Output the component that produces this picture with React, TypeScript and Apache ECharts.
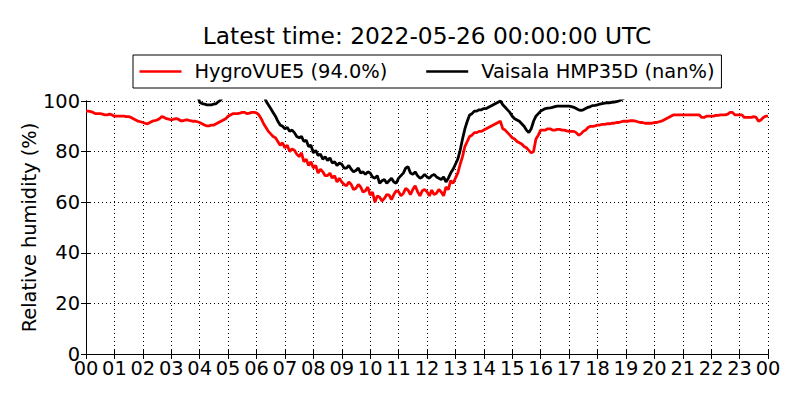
import React, { useEffect, useRef } from "react";
import * as echarts from "echarts";

// Samples every 5 minutes from 00:00 to 24:00 (12 per hour)
const hygroVUE5: number[] = [
  96, 96, 95.8, 95.5, 95, 95, 95, 94.8, 94.5, 94.5, 94.8, 94.5,
  94, 94, 94, 94, 94, 93.8, 93.8, 93.5, 93, 92.5, 92, 91.8,
  91.5, 91.2, 91, 91.5, 92, 92.2, 92.5, 93, 93.8, 93.5, 93, 92.8,
  92.5, 92.8, 93, 92.8, 92.2, 92.2, 92.5, 92.5, 92.2, 92, 92, 91.8,
  91.5, 91, 90.5, 90.2, 90.2, 90.5, 90.5, 91, 91.5, 92, 92.5, 93,
  94, 94.5, 95, 95, 95, 95.2, 95.5, 95.5, 95, 95.2, 95.5, 95.5,
  95.3, 94.5, 93, 91, 89.5, 88, 87, 86, 85.5, 84, 82.5, 83.5,
  81.5, 82.5, 80, 81, 80.5, 79, 78, 79.5, 76, 77, 74.5, 76,
  73.5, 74.5, 71.5, 73, 72, 70.5, 70.5, 71.5, 69.5, 70.5, 68, 69.5,
  68, 67, 66.5, 68, 67, 65, 65.5, 67, 66, 64, 64.5, 66,
  62.8, 64, 60, 62.5, 62, 60.5, 61.5, 63, 62.8, 61, 63, 64.5,
  64.2, 62.5, 63.5, 65.5, 64.8, 63, 65, 66.5, 64.2, 62.5, 64.5, 65,
  64.2, 62.5, 64.8, 63, 63.5, 65, 64, 62.5, 66, 65, 68.5, 67.5,
  69.5, 71.5, 75, 78, 82, 84, 86, 86.5, 87.5, 87.5, 88, 88,
  88.5, 89, 89.5, 90, 90.5, 91, 91.5, 92, 89, 88.5, 87.5, 86.5,
  85.5, 85, 84, 83.5, 83, 82, 81.5, 80.5, 79.5, 80, 85, 86.5,
  88.5, 88.5, 88.5, 89, 89, 88.5, 88.5, 88.8, 88.8, 88.5, 88.5, 88.2,
  88, 88, 88, 87.5, 86.5, 87, 88, 88.5, 89.5, 90, 90, 90.2,
  90.5, 90.5, 90.8, 90.8, 91, 91, 91.2, 91.2, 91.5, 91.5, 91.8, 92,
  92, 92, 92.2, 92.2, 92, 91.8, 91.5, 91.5, 91.2, 91.2, 91.2, 91.2,
  91.5, 91.5, 91.8, 92, 92.5, 93, 93.5, 94, 94.5, 94.5, 94.5, 94.5,
  94.5, 94.5, 94.5, 94.5, 94.5, 94.5, 94.5, 94.5, 93.5, 93.5, 94, 94,
  94, 94, 94.3, 94.3, 94.5, 94.5, 94.5, 94.8, 95.5, 95.5, 94.5, 94.5,
  94.5, 94.5, 93.5, 93.5, 93.5, 93.5, 93.8, 93.5, 92, 92.5, 93.5, 94,
  94,
];

// Values above 100 % lie outside the plotted range and are clipped away
const vaisala: number[] = [
  103, 103, 103, 103, 103, 103, 103, 103, 103, 103, 103, 103,
  103, 103, 103, 103, 103, 103, 103, 103, 103, 103, 103, 103,
  103, 103, 103, 103, 103, 103, 103, 103, 103, 103, 103, 103,
  103, 103, 103, 103, 103, 103, 103, 103, 103, 103, 103, 103,
  99.5, 99, 98.8, 98.5, 98.5, 98.5, 98.8, 99, 99.8, 100.5, 103, 103,
  103, 103, 103, 103, 103, 103, 103, 103, 103, 103, 103, 103,
  103, 103, 103, 103, 100, 98.5, 97, 95.5, 94, 92, 90.5, 90,
  89, 89.5, 88, 88.5, 87.5, 86, 85.5, 86, 84, 84.5, 82, 82.5,
  79.5, 80.5, 78.5, 79, 77, 78, 76.5, 77.5, 75.5, 76, 74.5, 75.5,
  75, 73.5, 73.5, 74.5, 73, 72, 72.5, 73.5, 71.5, 72, 71, 72,
  71.5, 70, 69.5, 70.5, 67.5, 68.5, 69, 67.5, 68.5, 69.5, 68, 67.5,
  69.5, 70.5, 71.5, 73.5, 74, 71.5, 71, 72, 70.5, 69.5, 70, 71,
  70, 69.5, 70.5, 71, 70, 69.5, 69, 70, 68, 69.5, 71.5, 73,
  75, 77, 80.5, 85, 89, 92, 94.5, 95, 96, 96, 96.5, 96.5,
  97, 97, 97.5, 98, 98.5, 99, 99.5, 100, 98.5, 97.5, 96.5, 95.5,
  94, 93, 92.5, 92, 91, 90, 88.5, 87.5, 89, 92, 94, 95,
  96, 96.5, 97, 97.2, 97.3, 97.5, 97.8, 98, 98, 98, 98, 98,
  98, 97.8, 97.5, 97, 96.5, 96.3, 96.5, 97, 97.5, 97.8, 98.2, 98.3,
  98.5, 98.8, 99, 99.2, 99.3, 99.3, 99.5, 99.6, 99.8, 100, 100.5, 101,
  103, 103, 103, 103, 103, 103, 103, 103, 103, 103, 103, 103,
  103, 103, 103, 103, 103, 103, 103, 103, 103, 103, 103, 103,
  103, 103, 103, 103, 103, 103, 103, 103, 103, 103, 103, 103,
  103, 103, 103, 103, 103, 103, 103, 103, 103, 103, 103, 103,
  103, 103, 103, 103, 103, 103, 103, 103, 103, 103, 103, 103,
  103,
];

const seriesNames = ["HygroVUE5 (94.0%)", "Vaisala HMP35D (nan%)"];
const titleText = "Latest time: 2022-05-26 00:00:00 UTC";
const yTicks = [0, 20, 40, 60, 80, 100];
const yLabel = "Relative humidity (%)";

const FONT = "DejaVu Sans";

export default function App() {
  const ref = useRef<HTMLDivElement>(null);
  useEffect(() => {
    document.body.style.margin = "0";
    if (!ref.current) return;
    const chart = echarts.init(ref.current, undefined, { renderer: "svg" });
    const toPairs = (arr: number[]) => arr.map((v, i) => [i / 12, v]);
    const hourFmt = (v: number) => String(Math.round(v) % 24).padStart(2, "0");
    const axisLine = { show: true, lineStyle: { color: "#000", width: 1 } };
    const tick = { show: true, inside: true, length: 5, lineStyle: { color: "#000", width: 1 } };
    const grid = { lineStyle: { color: "#000", width: 1, type: [1, 3] as any } };
    chart.setOption({
      animation: false,
      backgroundColor: "#fff",
      textStyle: { fontFamily: FONT },
      graphic: [
        {
          type: "text",
          style: {
            text: titleText,
            x: 427,
            y: 35,
            align: "center",
            verticalAlign: "middle",
            fontFamily: FONT,
            fontSize: 23.3,
            fill: "#000",
          },
        },
      ],
      legend: {
        left: 133,
        top: 55,
        orient: "horizontal",
        data: seriesNames,
        icon: "rect",
        itemWidth: 42,
        itemHeight: 2.5,
        itemGap: 39,
        padding: [7, 7, 7, 6.5],
        borderColor: "#000",
        borderWidth: 1,
        borderRadius: 0,
        textStyle: { fontFamily: FONT, fontSize: 19.4, color: "#000", padding: [0, 0, 0, 8] },
      },
      grid: { left: 86, right: 32, top: 101, bottom: 46, containLabel: false },
      xAxis: [
        {
          type: "value",
          min: 0,
          max: 24,
          interval: 1,
          axisLine,
          axisTick: tick,
          splitLine: { show: true, ...grid },
          axisLabel: { formatter: hourFmt, fontFamily: FONT, fontSize: 19.4, color: "#000", margin: 5 },
        },
        {
          type: "value",
          position: "top",
          min: 0,
          max: 24,
          interval: 1,
          axisLine,
          axisTick: tick,
          splitLine: { show: false },
          axisLabel: { show: false },
        },
      ],
      yAxis: [
        {
          type: "value",
          min: yTicks[0],
          max: yTicks[yTicks.length - 1],
          interval: 20,
          axisLine,
          axisTick: tick,
          splitLine: { show: true, ...grid },
          axisLabel: { fontFamily: FONT, fontSize: 19.4, color: "#000", margin: 6 },
          name: yLabel,
          nameLocation: "middle",
          nameGap: 47,
          nameMoveOverlap: false,
          nameTextStyle: { fontFamily: FONT, fontSize: 19.4, color: "#000" },
        },
        {
          type: "value",
          position: "right",
          min: 0,
          max: 100,
          interval: 20,
          axisLine,
          axisTick: tick,
          splitLine: { show: false },
          axisLabel: { show: false },
        },
      ],
      series: [
        {
          name: seriesNames[0],
          type: "line",
          data: toPairs(hygroVUE5),
          showSymbol: false,
          symbol: "none",
          lineStyle: { color: "#ff0000", width: 2.8 },
          itemStyle: { color: "#ff0000" },
          clip: true,
        },
        {
          name: seriesNames[1],
          type: "line",
          data: toPairs(vaisala),
          showSymbol: false,
          symbol: "none",
          lineStyle: { color: "#000000", width: 2.8 },
          itemStyle: { color: "#000000" },
          clip: true,
        },
      ],
    });
    return () => chart.dispose();
  }, []);
  return <div ref={ref} style={{ width: 800, height: 400 }} />;
}
